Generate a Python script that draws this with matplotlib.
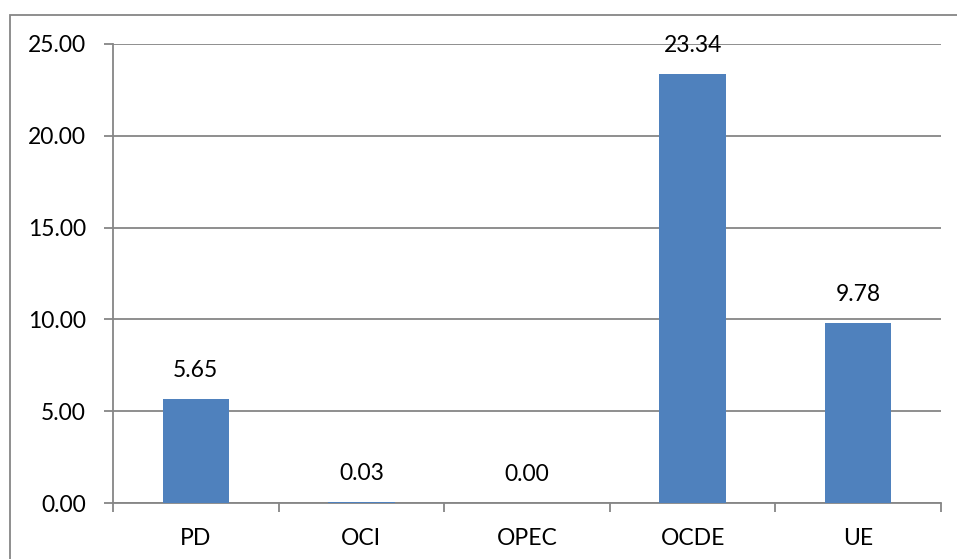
import matplotlib.pyplot as plt
import matplotlib.patches as mpatches
import numpy as np

# chart data
categories = ["PD", "OCI", "OPEC", "OCDE", "UE"]
values = [5.65, 0.03, 0.00, 23.34, 9.78]
y_ticks = [0, 5, 10, 15, 20, 25]

bar_color = "#4F81BD"
grid_color = "#868686"

plt.rcParams['font.family'] = ['Lato', 'DejaVu Sans']

W, H = 957, 559
fig = plt.figure(figsize=(W / 100, H / 100), dpi=100)

# outer chart border (right/bottom edges fall outside the picture)
fig.patches.append(mpatches.Rectangle(
    (9.5 / W, -0.1), 1.2, (H - 14.5) / H + 0.1,
    transform=fig.transFigure, fill=False, edgecolor=grid_color, linewidth=1.3))

ax = fig.add_axes([113 / W, (H - 503) / H, (941 - 113) / W, (503 - 44) / H])

x = np.arange(len(categories))
ax.bar(x, values, width=0.4, color=bar_color, zorder=3)

# value labels above bars
for xi, v in zip(x, values):
    ax.annotate(f"{v:.2f}", (xi, v), xytext=(0, 13), textcoords="offset points",
                ha="center", va="bottom", fontsize=16.5, color="black")

ax.set_xlim(-0.5, len(categories) - 0.5)
ax.set_ylim(0, 25)
ax.set_yticks(y_ticks)
ax.set_yticklabels([f"{t:.2f}" for t in y_ticks])
ax.yaxis.grid(True, color=grid_color, linewidth=1.3, zorder=0)

# category labels centered, tick marks at boundaries
ax.set_xticks(x)
ax.set_xticklabels(categories)
ax.set_xticks(np.arange(len(categories) + 1) - 0.5, minor=True)
ax.tick_params(axis="x", which="major", length=0, pad=18, labelsize=16.5)
ax.tick_params(axis="x", which="minor", length=6.5, width=1.3, color=grid_color)
ax.tick_params(axis="y", length=6.5, width=1.3, color=grid_color, pad=13, labelsize=16.5)

for side in ["top", "right"]:
    ax.spines[side].set_visible(False)
for side in ["left", "bottom"]:
    ax.spines[side].set_color(grid_color)
    ax.spines[side].set_linewidth(1.3)

fig.savefig("out.png", dpi=100)
